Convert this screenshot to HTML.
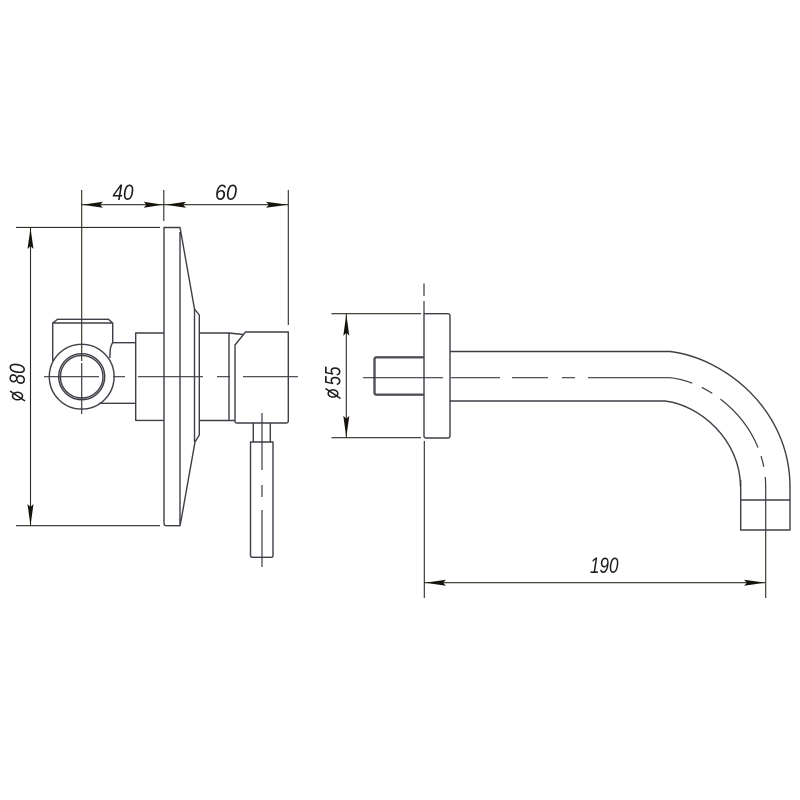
<!DOCTYPE html>
<html><head><meta charset="utf-8"><style>
html,body{margin:0;padding:0;background:#fff}
svg{display:block}
text{font-family:"Liberation Sans",sans-serif;font-style:italic;font-size:22px;fill:#1c1c1c}
.l{fill:none;stroke:#3d3f47;stroke-width:1.4;stroke-linejoin:round}
.d{fill:none;stroke:#2e2c20;stroke-width:1.1}
.c{fill:none;stroke:#3a3c44;stroke-width:1.2}
.a{fill:#15130a;stroke:none}
</style></head><body>
<svg width="800" height="800" viewBox="0 0 800 800" xmlns="http://www.w3.org/2000/svg">
<rect width="800" height="800" fill="#fff"/>

<!-- dimension lines left -->
<path class="d" d="M81.7 190V361M163.8 190V221M288.3 190V325M82 204.7H288M16 227.4H160M16 525.7H160M30.5 228V526"/>
<polygon class="a" points="82,204.7 103,201.7 100,204.7 103,207.7"/>
<polygon class="a" points="163,204.7 143.7,201.7 146.5,204.7 143.7,207.7"/>
<polygon class="a" points="165,204.7 186,201.7 183,204.7 186,207.7"/>
<polygon class="a" points="288,204.7 266,201.7 269,204.7 266,207.7"/>
<polygon class="a" points="30.5,228 27.5,249 30.5,246 33.5,249"/>
<polygon class="a" points="30.5,526 27.5,504 30.5,507 33.5,504"/>
<text x="112.5" y="200" textLength="21" lengthAdjust="spacingAndGlyphs">40</text>
<text x="215" y="200" textLength="22" lengthAdjust="spacingAndGlyphs">60</text>
<text transform="translate(25 384.5) rotate(-90)" textLength="21" lengthAdjust="spacingAndGlyphs">80</text>
<g transform="translate(17.5 396) rotate(-90)"><ellipse cx="0" cy="0" rx="3.8" ry="5" stroke="#1c1c1c" stroke-width="1.5" fill="none"/><path d="M-5 7.5L5 -7.5" stroke="#1c1c1c" stroke-width="1.5" fill="none"/></g>

<!-- plate -->
<path class="l" d="M164 227.5H180L181 233L194.5 309L199.3 315V435L195 442L181.5 518L180 525.7H166Q164 525.7 164 523Z"/>
<path class="l" d="M180 232V525M194.5 309V442"/>
<!-- left body -->
<path class="l" d="M164 333H135.7V420.4H164M113 342.7H135.7M99 403.3H135.7"/>
<path class="l" d="M52.7 361V323L57.5 319.3H108.5L112.7 323V342.7Q109.5 347 110 358M52.7 323H112.7"/>
<circle class="l" cx="81.7" cy="376.7" r="32.4"/>
<circle class="l" cx="81.7" cy="376.7" r="23"/>
<circle class="l" cx="81.7" cy="376.7" r="21.3"/>
<!-- right body -->
<path class="l" d="M199.3 333H229V420.5H199.3M229 333L243 334.5M229 420.5H235"/>
<path class="l" d="M245.5 332H288.3V421Q288.3 423 286 423H237Q235 423 235 421V345L245.5 332Z"/>
<path class="l" d="M253.3 423V442M270.3 423V442"/>
<path class="l" d="M250.5 442H273V555.5Q273 557.3 271 557.3H252.5Q250.5 557.3 250.5 555.5Z"/>
<!-- centre lines left -->
<path class="c" d="M44 376.7H99M113 376.7H125M138 376.7H203M217 376.7H230M243 376.7H298M81.7 363V414M262 413V470M262 485V497M262 510V567"/>

<!-- right view dims -->
<path class="d" d="M331.5 313.7H421M331.5 437.7H421M346.3 314V437.5M424.3 441V598M765.7 530V598M424.5 582.7H765"/>
<polygon class="a" points="346.3,314 343.3,335.7 346.3,332.7 349.3,335.7"/>
<polygon class="a" points="346.3,437.5 343.3,415.7 346.3,418.7 349.3,415.7"/>
<polygon class="a" points="425,582.7 446,579.7 443,582.7 446,585.7"/>
<polygon class="a" points="765,582.7 744,579.7 747,582.7 744,585.7"/>
<text transform="translate(340.5 385.5) rotate(-90)" textLength="19" lengthAdjust="spacingAndGlyphs">55</text>
<g transform="translate(333 393.5) rotate(-90)"><ellipse cx="0" cy="0" rx="3.6" ry="4.8" stroke="#1c1c1c" stroke-width="1.5" fill="none"/><path d="M-5 7.5L5 -7.5" stroke="#1c1c1c" stroke-width="1.5" fill="none"/></g>
<text x="590" y="573" textLength="28.5" lengthAdjust="spacingAndGlyphs">190</text>

<!-- flange -->
<path class="l" d="M424 313.7H448Q450 313.7 450 316V435.5Q450 438 448 438H426Q424 438 424 436Z"/>
<path class="c" d="M424 283.5V296M424 301V314"/>
<!-- thread -->
<path class="l" style="stroke-width:2.4;stroke:#50525a" d="M424 357.3H376.5Q374.5 357.3 374.5 359.5V392.5Q374.5 394.7 376.5 394.7H424"/>
<!-- pipe -->
<path class="l" d="M450 351.5H670C725 358 790 410 790 487M450 401H665C700 405 740.5 440 740.5 487"/>
<path class="l" d="M740.7 480V530H790V486M740.7 500H790"/>
<path class="c" d="M363 377.7H443M451 377.7H500M512 377.7H548M562 377.7H575M588 377.7H670"/>
<path class="c" stroke-dasharray="23 10.5 12 10 62 9 11 10.5 200" d="M670 377.7C712 382 765.7 425 765.7 487V530"/>
</svg>
</body></html>
